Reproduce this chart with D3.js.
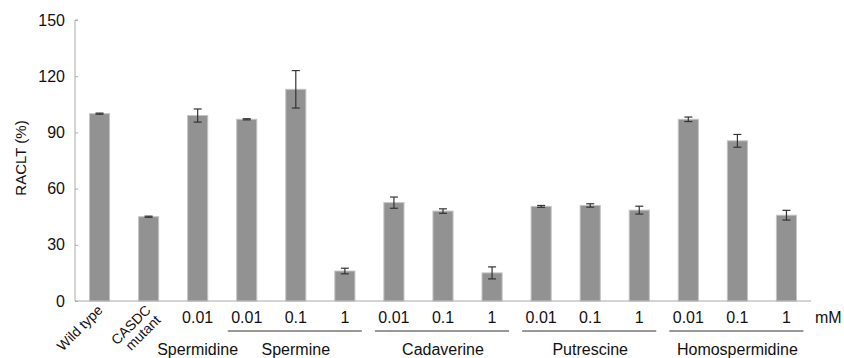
<!DOCTYPE html>
<html>
  <head>
  <title>RACLT</title>
  <style>
    body, html {
      margin: 0;
      padding: 0;
      background: #fff;
    }
    text {
      font-family: "Liberation Sans", Arial, sans-serif;
      fill: #111;
    }
  </style>
  </head>
  <body>
  <svg id="svg" width="844" height="358"></svg>
  <script src="https://d3js.org/d3.v7.min.js"></script>
  <script>
    // bar data
    const labels = ['Wild type', 'CASDC mutant', '0.01', '0.01', '0.1', '1', '0.01', '0.1', '1',
                    '0.01', '0.1', '1', '0.01', '0.1', '1']
    const values = [100, 45, 99, 97, 113, 16, 52.5, 48, 15, 50.5, 51, 48.5, 97, 85.5, 45.8]
    const errors = [0.3, 0.3, 3.5, 0.3, 10, 1.5, 3, 1.2, 3.2, 0.5, 0.9, 2.1, 1.2, 3.4, 2.6]
    const groups = [
      { name: 'Spermidine', from: 2, to: 2, line: false },
      { name: 'Spermine', from: 3, to: 5, line: true },
      { name: 'Cadaverine', from: 6, to: 8, line: true },
      { name: 'Putrescine', from: 9, to: 11, line: true },
      { name: 'Homospermidine', from: 12, to: 14, line: true }
    ]
    const yTicks = [0, 30, 60, 90, 120, 150]

    const svg = d3.select('#svg')
    const mLeft = 75, mRight = 811, mTop = 20, mBottom = 301

    const x = d3.scaleBand()
      .domain(d3.range(values.length))
      .range([mLeft, mRight])
      .paddingInner(0.59)
      .paddingOuter(0.295)
    const y = d3.scaleLinear().domain([0, 150]).range([mBottom, mTop])

    // y axis
    const yAxis = svg.append('g')
      .attr('transform', `translate(${mLeft},0)`)
      .call(d3.axisLeft(y).tickValues(yTicks).tickSize(-3).tickPadding(10))
    yAxis.select('.domain').attr('stroke', '#aaa').attr('d', `M3,${mTop}H0V${mBottom}`)
    yAxis.selectAll('.tick line').attr('stroke', '#aaa')
    yAxis.selectAll('.tick text')
      .style('font-size', '16px')
      .style('font-family', '"Liberation Sans", Arial, sans-serif')
      .attr('fill', '#111')

    svg.append('text')
      .attr('transform', `translate(26,158) rotate(-90)`)
      .attr('text-anchor', 'middle')
      .style('font-size', '15px')
      .text('RACLT (%)')

    // bars
    svg.selectAll('rect.bar')
      .data(values)
      .join('rect')
      .attr('class', 'bar')
      .attr('x', (d, i) => x(i))
      .attr('width', x.bandwidth())
      .attr('y', d => y(d))
      .attr('height', d => mBottom - y(d))
      .attr('fill', '#929292')
      .attr('stroke', '#c4c4c4')
      .attr('stroke-width', 1)

    // error bars
    const eb = svg.selectAll('g.err')
      .data(values)
      .join('g')
      .attr('class', 'err')
      .attr('stroke', '#333')
      .attr('stroke-width', 1.2)
    eb.append('line')
      .attr('x1', (d, i) => x(i) + x.bandwidth() / 2)
      .attr('x2', (d, i) => x(i) + x.bandwidth() / 2)
      .attr('y1', (d, i) => y(d + errors[i]))
      .attr('y2', (d, i) => y(d - errors[i]))
    eb.append('line')
      .attr('x1', (d, i) => x(i) + x.bandwidth() / 2 - 4)
      .attr('x2', (d, i) => x(i) + x.bandwidth() / 2 + 4)
      .attr('y1', (d, i) => y(d + errors[i]))
      .attr('y2', (d, i) => y(d + errors[i]))
    eb.append('line')
      .attr('x1', (d, i) => x(i) + x.bandwidth() / 2 - 4)
      .attr('x2', (d, i) => x(i) + x.bandwidth() / 2 + 4)
      .attr('y1', (d, i) => y(d - errors[i]))
      .attr('y2', (d, i) => y(d - errors[i]))

    // x axis line
    svg.append('line')
      .attr('x1', mLeft).attr('x2', mRight)
      .attr('y1', mBottom).attr('y2', mBottom)
      .attr('stroke', '#aaa')

    const cx = i => x(i) + x.bandwidth() / 2

    // dose labels
    svg.selectAll('text.dose')
      .data(labels.slice(2))
      .join('text')
      .attr('class', 'dose')
      .attr('x', (d, i) => cx(i + 2))
      .attr('y', 323)
      .attr('text-anchor', 'middle')
      .style('font-size', '16px')
      .text(d => d)

    svg.append('text')
      .attr('x', mRight + 4)
      .attr('y', 323)
      .style('font-size', '16px')
      .text('mM')

    // rotated labels
    svg.append('text')
      .attr('transform', `translate(${cx(0) + 4},311) rotate(-45)`)
      .attr('text-anchor', 'end')
      .style('font-size', '14px')
      .text(labels[0])
    const cas = svg.append('text')
      .attr('transform', `translate(${cx(1) + 3},311) rotate(-45)`)
      .attr('text-anchor', 'end')
      .style('font-size', '14px')
    cas.append('tspan').attr('x', 0).attr('dy', 0).text('CASDC')
    cas.append('tspan').attr('x', 0).attr('dy', 14).text('mutant')

    // group lines and names
    svg.selectAll('line.grp')
      .data(groups.filter(g => g.line))
      .join('line')
      .attr('class', 'grp')
      .attr('x1', g => cx(g.from) - 19)
      .attr('x2', g => cx(g.to) + 17)
      .attr('y1', 331).attr('y2', 331)
      .attr('stroke', '#333')
      .attr('stroke-width', 1)
    svg.selectAll('text.grp')
      .data(groups)
      .join('text')
      .attr('class', 'grp')
      .attr('x', g => (cx(g.from) + cx(g.to)) / 2)
      .attr('y', 355)
      .attr('text-anchor', 'middle')
      .style('font-size', '16px')
      .text(g => g.name)
  </script>
</body>
</html>
